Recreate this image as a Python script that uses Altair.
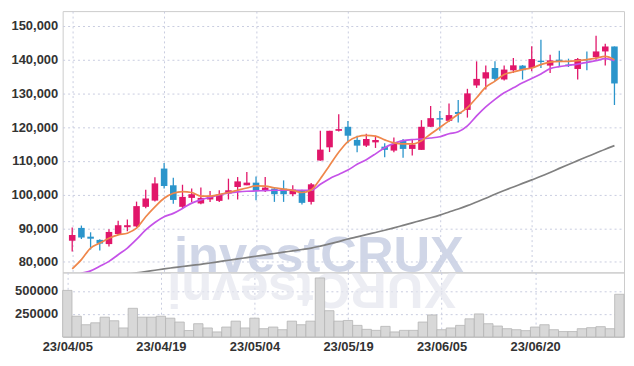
import altair as alt
import pandas as pd

dates = [
    "23/04/05", "23/04/06", "23/04/07", "23/04/10", "23/04/11", "23/04/12", "23/04/13", "23/04/14",
    "23/04/17", "23/04/18", "23/04/19", "23/04/20", "23/04/21", "23/04/24", "23/04/25", "23/04/26",
    "23/04/27", "23/04/28", "23/05/02", "23/05/03", "23/05/04", "23/05/08", "23/05/09", "23/05/10",
    "23/05/11", "23/05/12", "23/05/15", "23/05/16", "23/05/17", "23/05/18", "23/05/19", "23/05/22",
    "23/05/23", "23/05/24", "23/05/25", "23/05/26", "23/05/30", "23/05/31", "23/06/01", "23/06/02",
    "23/06/05", "23/06/07", "23/06/08", "23/06/09", "23/06/12", "23/06/13", "23/06/14", "23/06/15",
    "23/06/16", "23/06/19", "23/06/20", "23/06/21", "23/06/22", "23/06/23", "23/06/26", "23/06/27",
    "23/06/28", "23/06/29", "23/06/30", "23/07/03",
]

opens = [
    86300, 90100, 87500, 86550, 85300, 88300, 90300, 90550, 96350, 98200,
    107700, 102740, 96350, 99000, 97350, 98530, 98120, 100290, 102240, 102740,
    103530, 101060, 101760, 101760, 100090, 101260, 97820, 110090, 114000, 118900,
    120090, 116200, 114500, 115470, 114200, 113030, 115970, 113530, 113240, 120090,
    122650, 121850, 124500, 125090, 132350, 134410, 137530, 134120, 136850, 138240,
    137530, 139700, 138240, 140000, 138530, 137240, 140180, 140760, 142440, 143910,
]
highs = [
    90200, 90800, 88800, 86700, 89700, 92250, 92600, 97900, 101400, 105100,
    109350, 105000, 102900, 101800, 102060, 101060, 101260, 104700, 105180, 106650,
    105380, 105180, 101900, 104200, 102740, 101400, 103400, 118900, 118900, 123820,
    121800, 117440, 118000, 117440, 115180, 116940, 116470, 116260, 122060, 126260,
    124790, 127000, 128030, 131350, 139500, 138240, 139500, 138240, 140470, 138400,
    144000, 145880, 141470, 142650, 140290, 140470, 142440, 147060, 144700, 143910,
]
lows = [
    83100, 86800, 83700, 83400, 84600, 88000, 89100, 90300, 95900, 97900,
    101800, 97250, 95800, 97800, 97150, 97820, 97820, 98530, 98530, 102740,
    98320, 100760, 97820, 97820, 99500, 97060, 97060, 110000, 112600, 118700,
    115200, 112530, 114100, 113820, 111060, 112530, 110880, 111560, 113240, 120000,
    118900, 121500, 121350, 122820, 131650, 131180, 133620, 133800, 136060, 134120,
    136560, 137530, 136060, 138030, 137820, 134120, 136850, 140000, 138240, 126560,
]
closes = [
    88000, 87250, 86900, 85450, 88900, 90900, 90900, 96560, 98820, 103300,
    102530, 98400, 99300, 100090, 99000, 99300, 100000, 101260, 103900, 103530,
    101060, 102060, 100090, 100090, 101470, 97530, 103030, 113320, 118900, 119400,
    117440, 114500, 116470, 116180, 113240, 115000, 113530, 114800, 120090, 122650,
    122240, 123560, 123900, 130000, 134300, 136260, 134300, 137060, 138320, 136850,
    140180, 139290, 139790, 139290, 138240, 140180, 139790, 142440, 143910, 132940,
]
ma5 = [
    77950, 80680, 84120, 85590, 87060, 88030, 88530, 90000, 93410, 96350,
    98900, 100400, 100870, 100600, 99550, 99500, 100000, 100590, 101260, 101940,
    102550, 102480, 102000, 101620, 101220, 100610, 101360, 104700, 108620, 112530,
    115700, 117150, 117550, 117300, 116220, 115320, 115000, 115000, 115970, 117940,
    119880, 121850, 123820, 125760, 128700, 131850, 133620, 135590, 136350, 137060,
    137530, 138530, 139290, 139500, 139500, 139700, 140000, 140470, 141000, 140000,
]
ma20 = [
    75600, 76600, 77350, 78700, 80180, 82150, 84120, 86700, 89500, 91700,
    93410, 94410, 95880, 97450, 98420, 99200, 99900, 100470, 100760, 100970,
    101060, 101160, 101260, 101260, 101260, 101260, 101260, 103030, 104700, 105970,
    107250, 108970, 110340, 112060, 113900, 115180, 115970, 116320, 116470, 116760,
    117150, 118030, 118620, 120380, 123320, 125970, 128230, 130180, 131650, 133120,
    134410, 135760, 137350, 137940, 138320, 138700, 139200, 139700, 140290, 139700,
]
ma120 = [
    74000, 74400, 74800, 75200, 75550, 75950, 76350, 76750, 77150, 77550,
    77950, 78300, 78650, 79000, 79300, 79700, 80100, 80500, 80900, 81300,
    81700, 82100, 82500, 82900, 83300, 83700, 84120, 84700, 85350, 86050,
    86800, 87450, 88100, 88750, 89400, 90100, 90850, 91600, 92350, 93100,
    93900, 94800, 95700, 96700, 97800, 98900, 100100, 101200, 102250, 103300,
    104350, 105400, 106550, 107750, 108900, 110050, 111200, 112300, 113450, 114500,
]
volumes = [
    505000, 225000, 133000, 154000, 215000, 176000, 98000, 311000, 215000, 215000,
    225000, 204000, 162000, 70000, 144000, 98000, 55000, 108000, 172000, 98000,
    204000, 90000, 108000, 79000, 172000, 133000, 172000, 640000, 285000, 172000,
    179000, 126000, 83000, 72000, 115000, 55000, 72000, 72000, 162000, 239000,
    79000, 98000, 126000, 197000, 250000, 144000, 119000, 90000, 79000, 69000,
    108000, 133000, 79000, 59000, 59000, 90000, 101000, 112000, 90000, 463000,
]

tick_idx = [0, 10, 20, 30, 40, 50]
price_ticks = [80000, 90000, 100000, 110000, 120000, 130000, 140000, 150000]
vol_ticks = [250000, 500000]
watermark = "investCRUX"

UP, DOWN = "#e1166a", "#2b95cb"
FONT = "Liberation Sans"

df = pd.DataFrame({
    "idx": list(range(len(dates))),
    "date": dates,
    "open": opens, "high": highs, "low": lows, "close": closes,
    "ma5": ma5, "ma20": ma20, "ma120": ma120, "volume": volumes,
})
df["dir"] = ["up" if c >= o else "down" for o, c in zip(opens, closes)]

label_expr = " : ".join(f"datum.value == {i} ? '{dates[i]}'" for i in tick_idx) + " : ''"

xscale = alt.Scale(domain=[-0.5, len(dates) - 0.5], nice=False, zero=False)
pscale = alt.Scale(domain=[76900, 154400], nice=False, zero=False)
vscale = alt.Scale(domain=[0, 700000], nice=False)

x_grid_axis = alt.Axis(values=tick_idx, labels=False, ticks=False, domain=False, grid=True, title=None)
x_label_axis = alt.Axis(values=tick_idx, labelExpr=label_expr, ticks=False, domain=False, grid=True,
                        title=None, labelPadding=4, labelAngle=0, labelOverlap=False)
price_axis = alt.Axis(values=price_ticks, format=",d", ticks=False, domain=False, title=None,
                      labelOverlap=False, labelPadding=5, minExtent=50, maxExtent=50)
vol_axis = alt.Axis(values=vol_ticks, format="d", ticks=False, domain=False, title=None,
                    labelOverlap=False, labelPadding=5, minExtent=50, maxExtent=50)

color = alt.Color("dir:N", scale=alt.Scale(domain=["up", "down"], range=[UP, DOWN]), legend=None)

base = alt.Chart(df)

wm = alt.Chart(pd.DataFrame({"t": [watermark]})).mark_text(
    font="Liberation Sans", fontWeight="bold", fontSize=51, clip=True,
    align="left", baseline="alphabetic", color="#cbd2e5", opacity=0.9,
).encode(text="t:N", x=alt.value(112), y=alt.value(263))


def px(field):
    return alt.X(f"{field}:Q", scale=xscale, axis=x_grid_axis)


def py(field):
    return alt.Y(f"{field}:Q", scale=pscale, axis=price_axis)


wicks = base.mark_rule(strokeWidth=1.3).encode(
    x=px("idx"), y=py("low"), y2="high:Q", color=color,
)
bodies = base.mark_bar(size=6.6).encode(
    x=px("idx"), y=py("open"), y2="close:Q", color=color,
)


def ma_line(field, col):
    return base.mark_line(color=col, strokeWidth=1.7, interpolate="monotone", clip=True).encode(
        x=px("idx"), y=py(field),
    )


price = alt.layer(
    wm, ma_line("ma120", "#808080"), wicks, bodies,
    ma_line("ma20", "#c552e8"), ma_line("ma5", "#ef874b"),
).properties(width=565, height=263)

refl = alt.Chart(pd.DataFrame({"t": [watermark[::-1]]})).mark_text(
    font="Liberation Sans", fontWeight="bold", fontSize=51, clip=True,
    align="left", baseline="alphabetic", angle=180, color="#e4e6ee", opacity=0.7,
).encode(text="t:N", x=alt.value(397), y=alt.value(1))

vol = base.mark_bar(fill="#d8d8d8", stroke="#b4b4b4", strokeWidth=0.8).transform_calculate(
    x0="datum.idx - 0.5", x1="datum.idx + 0.5", v0="0"
).encode(
    x=alt.X("x0:Q", scale=xscale, axis=x_label_axis),
    x2="x1:Q",
    y=alt.Y("volume:Q", scale=vscale, axis=vol_axis),
    y2="v0:Q",
)

volume = alt.layer(refl, vol).properties(width=565, height=65)

chart = alt.vconcat(price, volume, spacing=0, bounds="flush").properties(
    padding={"left": 2, "top": 1, "right": 1, "bottom": 0},
).configure_view(stroke="#cccccc", strokeWidth=1).configure_axis(
    gridColor="#c9cde0", gridDash=[2, 3], gridWidth=1,
    labelFont=FONT, labelFontSize=13, labelFontWeight="bold", labelColor="#333333",
)

chart.save("out.html", embed_options={"renderer": "svg", "actions": False})
